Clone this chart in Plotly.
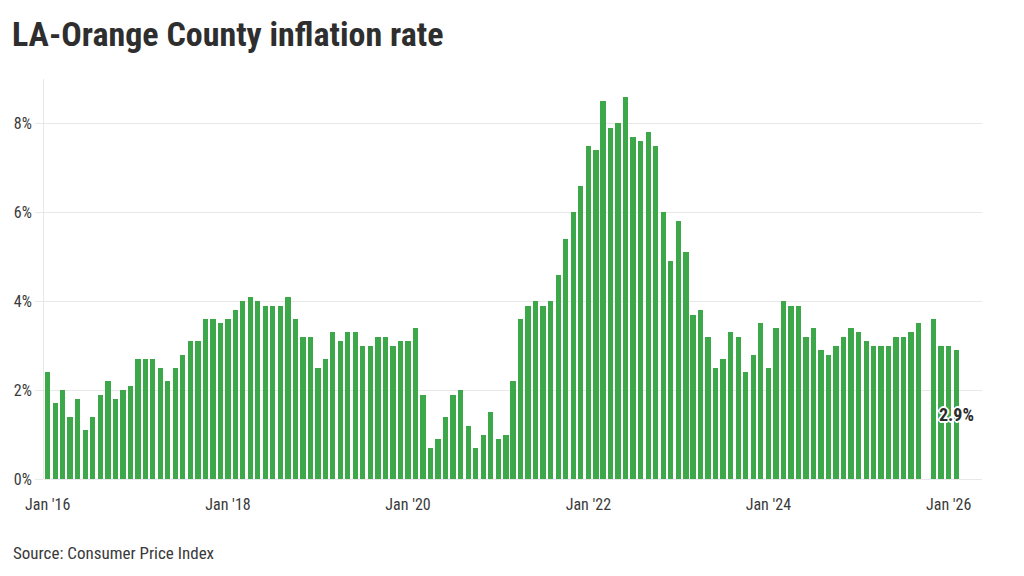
import pandas as pd
import plotly.graph_objects as go

# ---- data ----
months = [d.strftime("%Y-%m-%d") for d in pd.date_range("2016-01-01", "2026-02-01", freq="MS")]
rate_2016 = [2.4, 1.7, 2.0, 1.4, 1.8, 1.1, 1.4, 1.9, 2.2, 1.8, 2.0, 2.1]
rate_2017 = [2.7, 2.7, 2.7, 2.5, 2.2, 2.5, 2.8, 3.1, 3.1, 3.6, 3.6, 3.5]
rate_2018 = [3.6, 3.8, 4.0, 4.1, 4.0, 3.9, 3.9, 3.9, 4.1, 3.6, 3.2, 3.2]
rate_2019 = [2.5, 2.7, 3.3, 3.1, 3.3, 3.3, 3.0, 3.0, 3.2, 3.2, 3.0, 3.1]
rate_2020 = [3.1, 3.4, 1.9, 0.7, 0.9, 1.4, 1.9, 2.0, 1.2, 0.7, 1.0, 1.5]
rate_2021 = [0.9, 1.0, 2.2, 3.6, 3.9, 4.0, 3.9, 4.0, 4.6, 5.4, 6.0, 6.6]
rate_2022 = [7.5, 7.4, 8.5, 7.9, 8.0, 8.6, 7.7, 7.6, 7.8, 7.5, 6.0, 4.9]
rate_2023 = [5.8, 5.1, 3.7, 3.8, 3.2, 2.5, 2.7, 3.3, 3.2, 2.4, 2.8, 3.5]
rate_2024 = [2.5, 3.4, 4.0, 3.9, 3.9, 3.2, 3.4, 2.9, 2.8, 3.0, 3.2, 3.4]
rate_2025 = [3.3, 3.1, 3.0, 3.0, 3.0, 3.2, 3.2, 3.3, 3.5, None, 3.6, 3.0]
rate_2026 = [3.0, 2.9]
rates = (rate_2016 + rate_2017 + rate_2018 + rate_2019 + rate_2020 + rate_2021
         + rate_2022 + rate_2023 + rate_2024 + rate_2025 + rate_2026)

y_ticks = [0, 2, 4, 6, 8]
y_tick_labels = ["0%", "2%", "4%", "6%", "8%"]

title_text = "LA-Orange County inflation rate"
source_text = "Source: Consumer Price Index"

# ---- styling ----
BAR_COLOR = "#3ca84a"
GRID = "#e8e8e8"
TEXT = "#3a3a3a"
FONT = "Roboto Condensed, Liberation Sans Narrow, Roboto, sans-serif"
DAY_MS = 86400000
BAR_WIDTH = 21.5 * DAY_MS

L, R, T, B = 44, 42, 79, 97
W, H = 1024, 576
pw, ph = W - L - R, H - T - B

fig = go.Figure()
fig.add_trace(go.Bar(
    x=months, y=rates,
    marker=dict(color=BAR_COLOR, line=dict(width=0)),
    width=BAR_WIDTH,
    hoverinfo="skip",
))

last_x = months[-1]
last_y = rates[-1]
halo = ("1px 1px 0 #fff, -1px -1px 0 #fff, 1px -1px 0 #fff, -1px 1px 0 #fff, "
        "0 2px 0 #fff, 0 -2px 0 #fff, 2px 0 0 #fff, -2px 0 0 #fff")
fig.add_annotation(
    x=last_x, y=last_y / 2, xref="x", yref="y",
    text=f"<b>{last_y}%</b>", showarrow=False,
    font=dict(family=FONT, size=18, color="#2b2b2b", shadow=halo),
    xanchor="center", yanchor="middle",
)

fig.add_annotation(
    x=(11 - L) / pw, y=(H - B - 553) / ph, xref="paper", yref="paper",
    text=source_text, showarrow=False,
    xanchor="left", yanchor="middle",
    font=dict(family=FONT, size=17, color=TEXT),
)

fig.update_layout(
    width=W, height=H,
    margin=dict(l=L, r=R, t=T, b=B, pad=0),
    paper_bgcolor="white", plot_bgcolor="white",
    showlegend=False,
    title=dict(
        text=f"<b>{title_text}</b>", x=12 / W, xref="container", xanchor="left",
        y=1 - 34 / H, yref="container", yanchor="middle",
        font=dict(family=FONT, size=34, color="#2e2e2e"),
    ),
    font=dict(family=FONT, color=TEXT),
    bargap=0,
)

fig.update_xaxes(
    type="date",
    range=["2015-12-17", "2026-05-16"],
    tick0="2016-01-01", dtick="M24", tickformat="%b '%y",
    showgrid=False, zeroline=False, showline=False,
    ticks="", ticklabelstandoff=14,
    tickfont=dict(family=FONT, size=16, color=TEXT),
)
fig.update_yaxes(
    range=[0, 9],
    tickvals=y_ticks, ticktext=y_tick_labels,
    showgrid=True, gridcolor=GRID, gridwidth=1,
    zeroline=True, zerolinecolor=GRID, zerolinewidth=1,
    showline=True, linecolor=GRID, linewidth=1,
    ticks="outside", ticklen=8, tickcolor=GRID, tickwidth=1,
    tickfont=dict(family=FONT, size=16, color=TEXT),
)

fig.write_html(
    "out.html",
    config={"displayModeBar": False, "staticPlot": True},
    post_script="document.body.style.margin='0';document.body.style.overflow='hidden';",
)
